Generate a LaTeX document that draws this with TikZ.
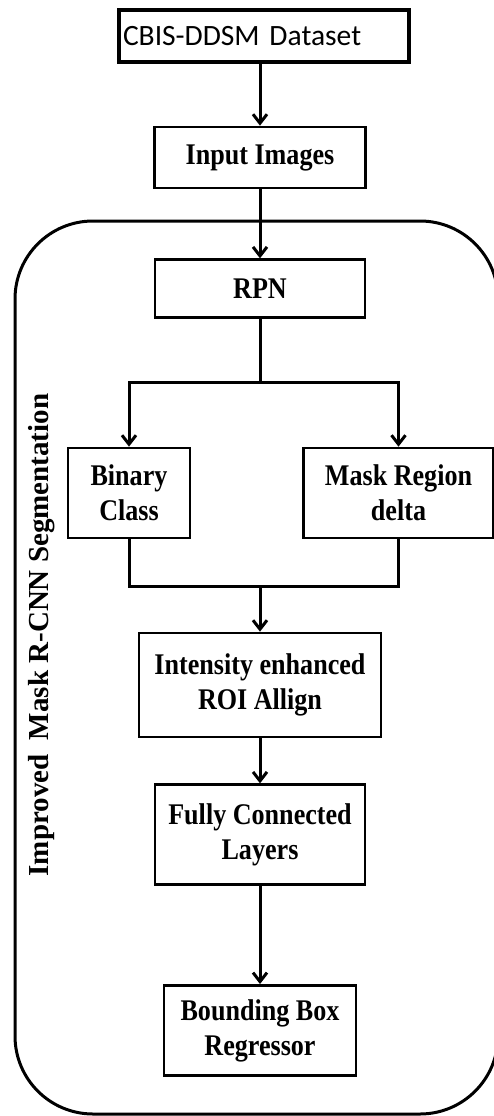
\documentclass[tikz,border=0pt]{standalone}
\usepackage{fontspec}
\setmainfont{Liberation Serif}[FakeStretch=0.87]
\newfontfamily\stagefont{Liberation Serif}
\newfontfamily\datafont{Carlito}
\usepackage{tikz}
\usetikzlibrary{arrows.meta, positioning}
\tikzset {
    block/.style = {
        draw,
        shape = rectangle,
        line width = 2.7pt,
        align = center,
        inner sep = 2pt,
        font = {\bfseries\fontsize{30}{35}\selectfont}
    },
    source/.style = {
        draw,
        shape = rectangle,
        line width = 4.5pt,
        text width = 282pt,
        align = left,
        inner xsep = 4pt,
        minimum height = 52pt,
        font = {\datafont\fontsize{29.5}{32}\selectfont}
    },
    container/.style = {
        draw,
        line width = 3pt,
        rounded corners = 78pt
    },
    flow/.style = {
        -{Straight Barb[length=9pt,width=14pt]},
        line width = 3pt
    },
    link/.style = {
        line width = 3pt
    }
}

\begin{document}
\begin{tikzpicture}[x=1pt, y=-1pt, node distance=60pt]
        \useasboundingbox (0,0) rectangle (494,1116);

        % Outer frame of the segmentation stage
        \draw [container] (15,221) rectangle (498,1114);
        \node [rotate=90, font={\stagefont\bfseries\fontsize{29}{32}\selectfont}] at (42,635) (stage) {Improved\ \ Mask R-CNN Segmentation};

        % Top column : dataset, input, RPN
        \node [source] at (264,36)                                        (dataset)   {CBIS-DDSM Dataset};
        \node [block, minimum width=211pt, minimum height=61pt] at (260,157.5) (input) {Input Images};
        \node [block, minimum width=210pt, minimum height=58pt, below=69pt of input] (rpn) {RPN};

        % Middle row : split, two heads, merge
        \coordinate                                                       (split)     at (260,382);
        \node [block, minimum width=122pt, minimum height=90pt] at (129,493)    (binary)    {Binary\\Class};
        \node [block, minimum width=190pt, minimum height=90pt] at (398.5,493)  (mask)      {Mask Region\\delta};
        \coordinate                                                       (merge)     at (260,586);

        % Bottom column : ROI align, FC layers, regressor
        \node [block, minimum width=242pt, minimum height=104pt] at (260,685)  (roi)       {Intensity enhanced\\ROI Allign};
        \node [block, minimum width=210pt, minimum height=100pt, below=45pt of roi] (fc) {Fully Connected\\Layers};
        \node [block, minimum width=192pt, minimum height=90pt, below=98pt of fc]  (bbox) {Bounding Box\\Regressor};

        \draw [flow]    (dataset.south -| input.north)  --  (input.north);
        \draw [flow]    (input)     --  (rpn);
        \draw [link]    (rpn)       --  (split);
        \draw [flow]    (split)     -|  (binary);
        \draw [flow]    (split)     -|  (mask);
        \draw [link]    (binary)    |-  (merge);
        \draw [link]    (mask)      |-  (merge);
        \draw [flow]    (merge)     --  (roi);
        \draw [flow]    (roi)       --  (fc);
        \draw [flow]    (fc)        --  (bbox);
    \end{tikzpicture}
\end{document}
